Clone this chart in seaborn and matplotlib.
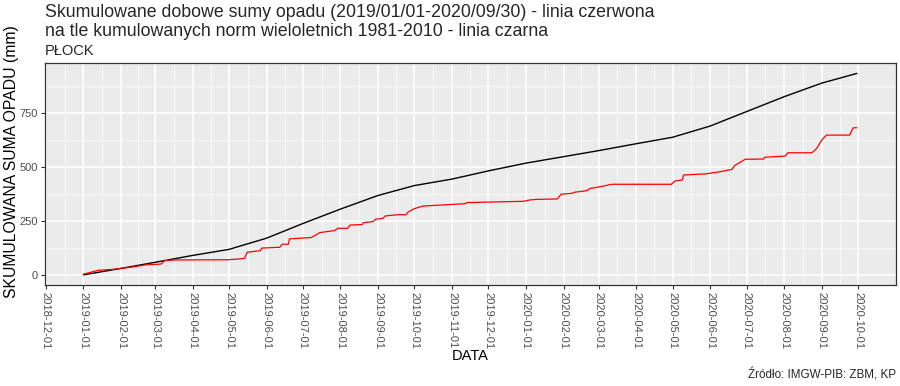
import numpy as np
import pandas as pd
import matplotlib
matplotlib.use("Agg")
from matplotlib import pyplot as plt
import matplotlib.dates as mdates
import seaborn as sns

# normy wieloletnie 1981-2010 (skumulowane, mm)
norm_dates = ["2019-01-01", "2019-02-01", "2019-03-01", "2019-04-01", "2019-05-01",
              "2019-06-01", "2019-07-01", "2019-08-01", "2019-09-01", "2019-10-01",
              "2019-11-01", "2019-12-01", "2020-01-01", "2020-02-01", "2020-03-01",
              "2020-04-01", "2020-05-01", "2020-06-01", "2020-07-01", "2020-08-01",
              "2020-09-01", "2020-09-30"]
norm_values = [0, 30, 58, 90, 118, 170, 238, 305, 368, 414, 444, 482,
               518, 548, 576, 608, 638, 690, 757, 826, 889, 934]

# opad skumulowany 2019/01/01-2020/09/30 (mm)
obs_dates = ["2019-01-01", "2019-01-09", "2019-01-13", "2019-01-26", "2019-02-01",
             "2019-02-10", "2019-02-21", "2019-03-06", "2019-03-09", "2019-03-17",
             "2019-04-30", "2019-05-10", "2019-05-14", "2019-05-16", "2019-05-27",
             "2019-05-28", "2019-06-12", "2019-06-14", "2019-06-19", "2019-06-20",
             "2019-07-08", "2019-07-15", "2019-07-27", "2019-07-30", "2019-08-07",
             "2019-08-09", "2019-08-19", "2019-08-20", "2019-08-28", "2019-08-30",
             "2019-09-05", "2019-09-07", "2019-09-17", "2019-09-24", "2019-09-26",
             "2019-10-01", "2019-10-08", "2019-11-12", "2019-11-13", "2019-12-30",
             "2020-01-04", "2020-01-10", "2020-01-27", "2020-01-30", "2020-02-08",
             "2020-02-10", "2020-02-20", "2020-02-23", "2020-02-29", "2020-03-12",
             "2020-04-30", "2020-05-03", "2020-05-09", "2020-05-10", "2020-05-28",
             "2020-06-09", "2020-06-19", "2020-06-21", "2020-06-30", "2020-07-15",
             "2020-07-16", "2020-08-02", "2020-08-04", "2020-08-24", "2020-08-28",
             "2020-09-01", "2020-09-05", "2020-09-24", "2020-09-27", "2020-09-30"]
obs_values = [3, 15, 21, 26, 30, 36, 46, 50, 66, 69,
              70, 74, 77, 105, 112, 124, 128, 142, 142, 167,
              173, 196, 205, 216, 216, 231, 233, 242, 247, 258,
              262, 273, 279, 279, 292, 307, 319, 330, 335, 341,
              347, 350, 352, 374, 378, 383, 390, 401, 406, 420,
              420, 435, 440, 463, 468, 478, 489, 506, 536, 537,
              545, 551, 566, 566, 587, 625, 648, 648, 682, 682]

title1 = "Skumulowane dobowe sumy opadu (2019/01/01-2020/09/30) - linia czerwona"
title2 = "na tle kumulowanych norm wieloletnich 1981-2010 - linia czarna"
subtitle = "PŁOCK"
caption = "Źródło: IMGW-PIB: ZBM, KP"

sns.set_theme(style="darkgrid", rc={"axes.facecolor": "#EBEBEB"})
plt.rcParams['font.family'] = ['Liberation Sans', 'DejaVu Sans']

fig = plt.figure(figsize=(9, 3.86), dpi=100)
ax = fig.add_axes([0.05, 0.2617, 0.9456, 0.5738])

sns.lineplot(x=pd.to_datetime(norm_dates), y=norm_values, color="black", linewidth=1.0, ax=ax)
sns.lineplot(x=pd.to_datetime(obs_dates), y=obs_values, color="red", linewidth=0.9, ax=ax)

ax.set_xlim(pd.Timestamp("2018-11-30 06:00"), pd.Timestamp("2020-11-01 08:00"))
ax.set_ylim(-47, 980)

# osie
months = pd.date_range("2018-12-01", "2020-10-01", freq="MS")
mids = months[:-1] + (months[1:] - months[:-1]) / 2
ax.set_xticks(months)
ax.set_xticks(mids, minor=True)
ax.xaxis.set_major_formatter(mdates.DateFormatter("%Y-%m-%d"))
ax.set_yticks([0, 250, 500, 750])
ax.set_yticks([125, 375, 625, 875], minor=True)

ax.grid(which="major", color="white", linewidth=1.1)
ax.grid(which="minor", color="white", linewidth=0.5)

ax.tick_params(axis="both", which="major", length=3, width=0.8, color="#333333",
               labelcolor="#4D4D4D", labelsize=8, pad=2, left=True, bottom=True)
ax.tick_params(axis="both", which="minor", length=0)
plt.setp(ax.get_xticklabels(), rotation=-90, ha="center", va="top")

for sp in ax.spines.values():
    sp.set_visible(True)
    sp.set_color("#333333")
    sp.set_linewidth(0.9)

ax.set_xlabel("DATA", fontsize=10.5, color="black")
ax.xaxis.set_label_coords((470 - 45) / 851, -(356 - 285) / 221.5)
ax.xaxis.label.set_va("center")
ax.set_ylabel("SKUMULOWANA SUMA OPADU (mm)", fontsize=11.3, color="black")
ax.yaxis.set_label_coords(-(45 - 12) / 851, (285 - 162) / 221.5)
ax.yaxis.label.set_va("center")

fig.text(45 / 900, 1 - 17.3 / 386, title1, fontsize=12.8, va="baseline", ha="left")
fig.text(45 / 900, 1 - 35.5 / 386, title2, fontsize=12.8, va="baseline", ha="left")
fig.text(45 / 900, 1 - 55 / 386, subtitle, fontsize=10.5, va="baseline", ha="left")
fig.text(896 / 900, 1 - 379 / 386, caption, fontsize=8.4, va="baseline", ha="right")

plt.savefig("out.png", dpi=100)
